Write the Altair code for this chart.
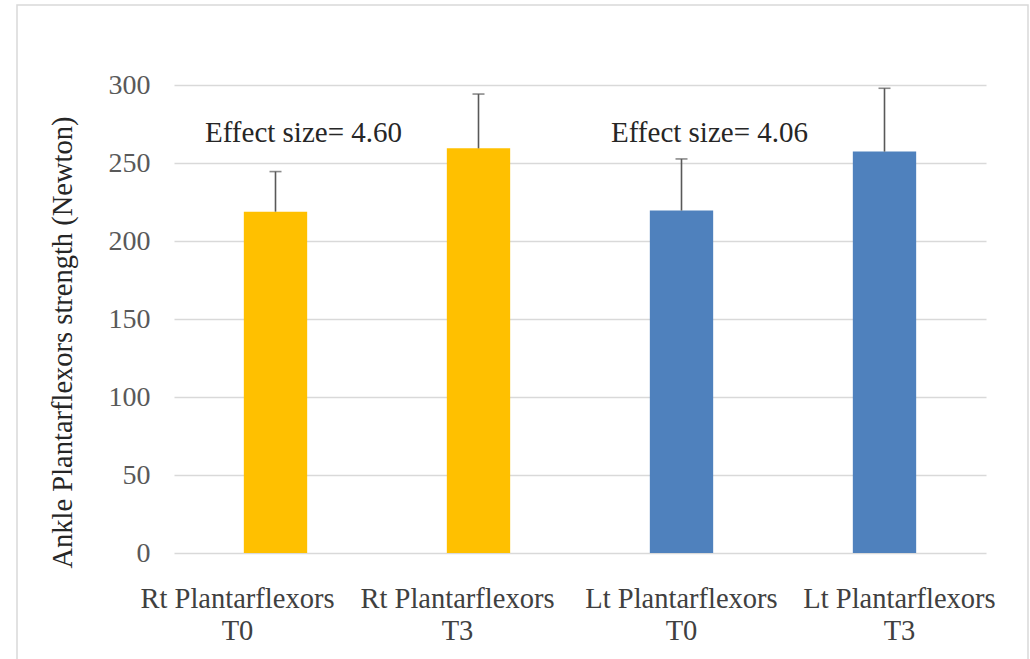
import altair as alt
import pandas as pd

categories = ["Rt Plantarflexors\nT0", "Rt Plantarflexors\nT3",
              "Lt Plantarflexors\nT0", "Lt Plantarflexors\nT3"]
sides = ["Rt", "Rt", "Lt", "Lt"]
means = [218.8, 259.4, 219.5, 257.3]
upper = [244.5, 294.2, 252.6, 297.9]

ann_categories = ["Rt Plantarflexors\nT0", "Lt Plantarflexors\nT0"]
ann_texts = ["Effect size= 4.60", "Effect size= 4.06"]
ann_y = [269, 269]

y_ticks = [0, 50, 100, 150, 200, 250, 300]

df = pd.DataFrame({"cat": categories, "side": sides, "mean": means, "upper": upper})
ann = pd.DataFrame({"cat": ann_categories, "text": ann_texts, "y": ann_y})

FONT = "Liberation Serif"

label_offset = {
    "condition": [
        {"test": "datum.value == 'Rt Plantarflexors\\nT0'", "value": -38},
        {"test": "datum.value == 'Rt Plantarflexors\\nT3'", "value": -21},
        {"test": "datum.value == 'Lt Plantarflexors\\nT3'", "value": 15},
    ],
    "value": 0,
}

x_enc = alt.X(
    "cat:N", sort=categories, title=None,
    scale=alt.Scale(paddingInner=0.688, paddingOuter=0.344),
    axis=alt.Axis(labelAngle=0, labelExpr="split(datum.label, '\\n')",
                  labelFont=FONT, labelFontSize=28.5, labelColor="#404040",
                  labelLineHeight=32, labelPadding=31, labelBaseline="top",
                  labelOffset=label_offset,
                  labelLimit=0, ticks=False, domain=False, grid=False),
)
y_scale = alt.Scale(domain=[0, 300], nice=False)

base = alt.Chart(df)

bars = base.mark_bar().encode(
    x=x_enc,
    y=alt.Y("mean:Q", scale=y_scale,
            title="Ankle Plantarflexors strength (Newton)",
            axis=alt.Axis(values=y_ticks, labelFont=FONT, labelFontSize=28,
                          labelColor="#595959", labelPadding=24, ticks=False,
                          domain=False, gridColor="#d9d9d9", gridWidth=1.5,
                          titleFont=FONT, titleFontSize=28.5, titleFontWeight="normal",
                          titleColor="#262626", titleAngle=-90,
                          titleX=-103, titleY=257, titleBaseline="alphabetic",
                          titleAlign="center")),
    color=alt.Color("side:N", scale=alt.Scale(domain=["Rt", "Lt"],
                                              range=["#FFC000", "#4F81BD"]),
                    legend=None),
)

err = base.mark_rule(color="#595959", strokeWidth=1.6).encode(
    x=alt.X("cat:N", sort=categories),
    y=alt.Y("mean:Q", scale=y_scale),
    y2="upper:Q",
)

caps = base.mark_tick(color="#595959", thickness=1.6, size=12, orient="horizontal").encode(
    x=alt.X("cat:N", sort=categories),
    y=alt.Y("upper:Q", scale=y_scale),
)

labels = alt.Chart(ann).mark_text(font=FONT, fontSize=29, color="#262626",
                                  dx=28, baseline="middle", align="center").encode(
    x=alt.X("cat:N", sort=categories),
    y=alt.Y("y:Q", scale=y_scale),
    text="text:N",
)

frame = alt.Chart(pd.DataFrame({"a": [0]})).mark_rect(
    fill=None, stroke="#d9d9d9", strokeWidth=1.5).encode(
    x=alt.value(-157), x2=alt.value(854), y=alt.value(-80), y2=alt.value(600))

chart = alt.layer(frame, bars, err, caps, labels).properties(
    width=812, height=468,
    autosize=alt.AutoSizeParams(type="none"),
    padding={"left": 174, "top": 85, "right": 44, "bottom": 106},
    background="white",
).configure(font=FONT).configure_view(stroke=None).configure_text(
    font=FONT, fontSize=29
).configure_axis(labelFont=FONT, titleFont=FONT)

chart.save("out.html", embed_options={"renderer": "svg", "actions": False})
